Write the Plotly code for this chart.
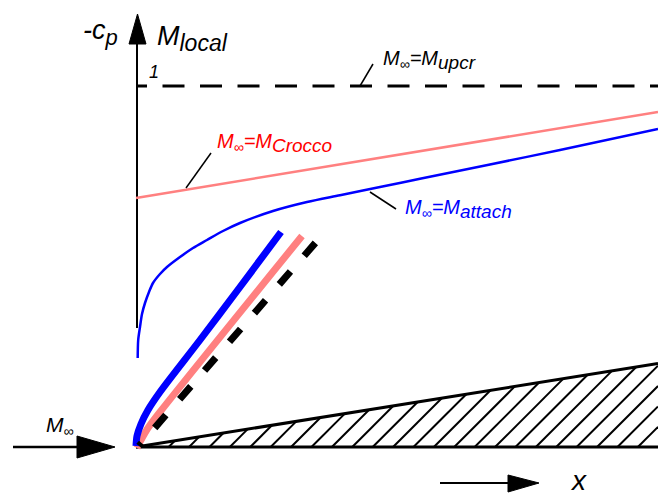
import plotly.graph_objects as go

W, H = 658, 494

# Local Mach number / pressure coefficient curves along the wedge surface
attach_x = [137.7, 138.2, 140, 142, 145, 149, 153, 160, 167, 180, 193, 207, 223, 240, 273, 307, 340, 380, 420, 490, 560, 658]
attach_y = [358, 340, 327, 314, 303, 292, 283, 274, 267, 257, 248, 240, 231, 223, 211, 202, 195.2, 187, 178.8, 164.5, 150, 129]
crocco_x = [136, 658]
crocco_y = [198, 112]
upcr_x = [136, 658]
upcr_y = [86, 86]

# Shock fronts at the wedge apex
shock_attach_x = [136, 137, 141, 148, 160, 200, 240, 281]
shock_attach_y = [446, 436, 424, 410, 392, 340, 287, 232]
shock_crocco_x = [137, 141, 148, 160, 302]
shock_crocco_y = [448, 440, 428, 412, 236]
shock_upcr_x = [139, 317]
shock_upcr_y = [446, 241]

# Wedge geometry
wedge_x = [136, 658, 658]
wedge_y = [447, 447, 363.5]

# Axes of the sketch
yaxis_x = [137, 137]
yaxis_y = [328, 44]
flow_x = [13, 80]
flow_y = [447, 447]
xdir_x = [440, 510]
xdir_y = [483, 483]

FONT = "Liberation Sans, Arial, sans-serif"
PINK = "#ff8080"
BLUE = "#0000ff"

fig = go.Figure()


def line(x, y, color="black", width=2, dash=None, shape="linear"):
    fig.add_trace(go.Scatter(x=x, y=y, mode="lines", hoverinfo="skip",
                             line=dict(color=color, width=width, dash=dash,
                                       shape=shape, smoothing=0.8)))


def triangle(pts):
    xs = [p[0] for p in pts] + [pts[0][0]]
    ys = [p[1] for p in pts] + [pts[0][1]]
    fig.add_trace(go.Scatter(x=xs, y=ys, mode="lines", fill="toself",
                             fillcolor="black", hoverinfo="skip",
                             line=dict(color="black", width=1)))


# Wedge hatching at 45 degrees, clipped to the wedge outline
tip_x, base_y = wedge_x[0], wedge_y[0]
slope = (wedge_y[1] - wedge_y[2]) / (wedge_x[2] - wedge_x[0])
spacing = 20.4
b = tip_x + spacing * 0.6
while b < wedge_x[1]:
    t = slope * (b - tip_x) / (1 - slope)
    x1, y1 = b + t, base_y - t
    if x1 > wedge_x[1]:
        x1 = wedge_x[1]
        y1 = base_y - (x1 - b)
    line([b, x1], [base_y, y1], width=2)
    b += spacing

# Wedge outline
line([wedge_x[0], wedge_x[1]], [wedge_y[0], wedge_y[1]], width=3)
line([wedge_x[0], wedge_x[2]], [wedge_y[0], wedge_y[2]], width=3)

# Vertical axis with arrow head
line(yaxis_x, yaxis_y, width=2)
triangle([(129, 44), (146, 44), (137.5, 14)])

# Curves
dash_top = "11px,15.5px," + ",".join(["22px,15.5px"] * 16)
line(upcr_x, upcr_y, width=3, dash=dash_top)
line(crocco_x, crocco_y, color=PINK, width=2.5)
line(attach_x, attach_y, color=BLUE, width=2.5, shape="spline")

# Shocks
line(shock_crocco_x, shock_crocco_y, color=PINK, width=7, shape="spline")
line(shock_attach_x, shock_attach_y, color=BLUE, width=7, shape="spline")
line(shock_upcr_x, shock_upcr_y, width=7, dash="4px,20px," + ",".join(["17px,21px"] * 8))

# Leader lines
line([360, 373], [86, 64], width=1.5)
line([186, 211], [188, 153], width=1.5)
line([370, 396], [192, 209], width=1.5)

# Free-stream and x-direction arrows
line(flow_x, flow_y, width=2.5)
triangle([(77, 436), (77, 458), (115, 447)])
line(xdir_x, xdir_y, width=2)
triangle([(508, 475), (508, 492), (539, 483)])


def text(x, y, s, size, color="black", xanchor="left"):
    fig.add_annotation(x=x, y=y, text=s, showarrow=False, xanchor=xanchor,
                       yanchor="middle", font=dict(family=FONT, size=size, color=color))


def sub(s, size):
    return "<sub><span style='font-size:%dpx'>%s</span></sub>" % (size, s)


def mach_eq(name):
    return "<i>M" + sub("∞", 14) + "=M" + sub(name, 19) + "</i>"


text(120, 32, "<i>-c" + sub("p", 22) + "</i>", 27, xanchor="right")
text(155, 38, "<i>M" + sub("local", 23) + "</i>", 27)
text(147, 72, "<i>1</i>", 18)
text(381, 60, mach_eq("upcr"), 20)
text(215, 143, mach_eq("Crocco"), 20, color="#ff0000")
text(403, 209, mach_eq("attach"), 20, color=BLUE)
text(44, 426, "<i>M" + sub("∞", 14) + "</i>", 21)
text(568, 480, "<i>x</i>", 28)

fig.update_layout(
    width=W, height=H, margin=dict(l=0, r=0, t=0, b=0),
    paper_bgcolor="white", plot_bgcolor="white", showlegend=False,
    xaxis=dict(range=[0, W], visible=False, fixedrange=True),
    yaxis=dict(range=[H, 0], visible=False, fixedrange=True),
)

fig.write_html("out.html")
